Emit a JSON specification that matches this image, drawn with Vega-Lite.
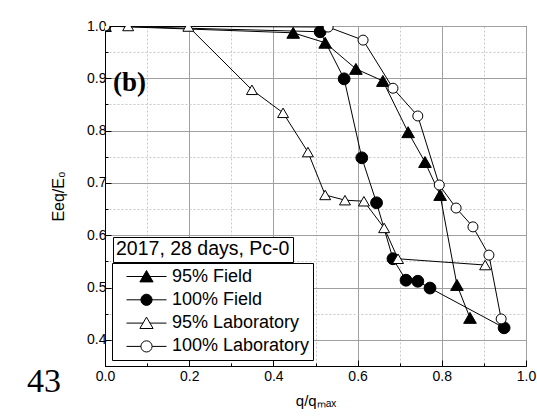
{
  "$schema": "https://vega.github.io/schema/vega-lite/v6.json",
  "width": 421,
  "height": 340,
  "autosize": {"type": "none"},
  "padding": {"left": 105, "top": 26, "right": 11, "bottom": 51},
  "background": "white",
  "config": {
    "view": {"stroke": "black", "strokeWidth": 1},
    "font": "Liberation Sans"
  },
  "data": {
    "values": [
      {"series": "95% Field", "x": 0.0, "y": 1.0, "note": "2017, 28 days, Pc-0"},
      {"series": "95% Field", "x": 0.447, "y": 0.987, "note": "2017, 28 days, Pc-0"},
      {"series": "95% Field", "x": 0.523, "y": 0.968, "note": "2017, 28 days, Pc-0"},
      {"series": "95% Field", "x": 0.596, "y": 0.918, "note": "2017, 28 days, Pc-0"},
      {"series": "95% Field", "x": 0.66, "y": 0.895, "note": "2017, 28 days, Pc-0"},
      {"series": "95% Field", "x": 0.72, "y": 0.797, "note": "2017, 28 days, Pc-0"},
      {"series": "95% Field", "x": 0.76, "y": 0.74, "note": "2017, 28 days, Pc-0"},
      {"series": "95% Field", "x": 0.796, "y": 0.677, "note": "2017, 28 days, Pc-0"},
      {"series": "95% Field", "x": 0.836, "y": 0.505, "note": "2017, 28 days, Pc-0"},
      {"series": "95% Field", "x": 0.867, "y": 0.442, "note": "2017, 28 days, Pc-0"},
      {"series": "100% Field", "x": 0.0, "y": 1.0, "note": "2017, 28 days, Pc-0"},
      {"series": "100% Field", "x": 0.511, "y": 0.989, "note": "2017, 28 days, Pc-0"},
      {"series": "100% Field", "x": 0.568, "y": 0.899, "note": "2017, 28 days, Pc-0"},
      {"series": "100% Field", "x": 0.61, "y": 0.748, "note": "2017, 28 days, Pc-0"},
      {"series": "100% Field", "x": 0.645, "y": 0.662, "note": "2017, 28 days, Pc-0"},
      {"series": "100% Field", "x": 0.684, "y": 0.555, "note": "2017, 28 days, Pc-0"},
      {"series": "100% Field", "x": 0.715, "y": 0.514, "note": "2017, 28 days, Pc-0"},
      {"series": "100% Field", "x": 0.743, "y": 0.512, "note": "2017, 28 days, Pc-0"},
      {"series": "100% Field", "x": 0.772, "y": 0.499, "note": "2017, 28 days, Pc-0"},
      {"series": "100% Field", "x": 0.948, "y": 0.423, "note": "2017, 28 days, Pc-0"},
      {"series": "95% Laboratory", "x": 0.0, "y": 1.0, "note": "2017, 28 days, Pc-0"},
      {"series": "95% Laboratory", "x": 0.055, "y": 1.0, "note": "2017, 28 days, Pc-0"},
      {"series": "95% Laboratory", "x": 0.198, "y": 0.999, "note": "2017, 28 days, Pc-0"},
      {"series": "95% Laboratory", "x": 0.349, "y": 0.878, "note": "2017, 28 days, Pc-0"},
      {"series": "95% Laboratory", "x": 0.423, "y": 0.834, "note": "2017, 28 days, Pc-0"},
      {"series": "95% Laboratory", "x": 0.482, "y": 0.759, "note": "2017, 28 days, Pc-0"},
      {"series": "95% Laboratory", "x": 0.523, "y": 0.677, "note": "2017, 28 days, Pc-0"},
      {"series": "95% Laboratory", "x": 0.57, "y": 0.667, "note": "2017, 28 days, Pc-0"},
      {"series": "95% Laboratory", "x": 0.615, "y": 0.665, "note": "2017, 28 days, Pc-0"},
      {"series": "95% Laboratory", "x": 0.663, "y": 0.614, "note": "2017, 28 days, Pc-0"},
      {"series": "95% Laboratory", "x": 0.696, "y": 0.555, "note": "2017, 28 days, Pc-0"},
      {"series": "95% Laboratory", "x": 0.903, "y": 0.543, "note": "2017, 28 days, Pc-0"},
      {"series": "100% Laboratory", "x": 0.0, "y": 1.0, "note": "2017, 28 days, Pc-0"},
      {"series": "100% Laboratory", "x": 0.53, "y": 0.998, "note": "2017, 28 days, Pc-0"},
      {"series": "100% Laboratory", "x": 0.613, "y": 0.973, "note": "2017, 28 days, Pc-0"},
      {"series": "100% Laboratory", "x": 0.684, "y": 0.881, "note": "2017, 28 days, Pc-0"},
      {"series": "100% Laboratory", "x": 0.743, "y": 0.828, "note": "2017, 28 days, Pc-0"},
      {"series": "100% Laboratory", "x": 0.794, "y": 0.696, "note": "2017, 28 days, Pc-0"},
      {"series": "100% Laboratory", "x": 0.834, "y": 0.652, "note": "2017, 28 days, Pc-0"},
      {"series": "100% Laboratory", "x": 0.874, "y": 0.616, "note": "2017, 28 days, Pc-0"},
      {"series": "100% Laboratory", "x": 0.912, "y": 0.562, "note": "2017, 28 days, Pc-0"},
      {"series": "100% Laboratory", "x": 0.941, "y": 0.44, "note": "2017, 28 days, Pc-0"}
    ]
  },
  "layer": [
    {
      "mark": {"type": "line", "color": "black", "strokeWidth": 1, "clip": true},
      "encoding": {
        "x": {
          "field": "x", "type": "quantitative",
          "scale": {"domain": [0, 1], "nice": false, "zero": false},
          "axis": {"orient": "bottom", "values": [0, 0.1, 0.2, 0.3, 0.4, 0.5, 0.6, 0.7, 0.8, 0.9, 1.0], "format": ".1f", "labelExpr": "round(datum.value*10)%2==0 ? datum.label : ''", "grid": true, "gridColor": {"condition": {"test": "round(datum.value*10)%2==0", "value": "#a0a0a0"}, "value": "#c8c8c8"}, "gridDash": {"condition": {"test": "round(datum.value*10)%2==0", "value": []}, "value": [2, 2]}, "tickSize": {"condition": {"test": "round(datum.value*10)%2==0", "value": -6}, "value": -3}, "tickColor": "black", "domainColor": "black", "labelFontSize": 14, "labelColor": "black", "labelPadding": 9, "labelFlush": false, "title": "q/qₘₐₓ", "titleFontSize": 15, "titleFontWeight": "normal", "titleColor": "black", "titlePadding": 10}
        },
        "y": {
          "field": "y", "type": "quantitative",
          "scale": {"domain": [0.35, 1], "nice": false, "zero": false},
          "axis": {"orient": "left", "values": [0.35, 0.4, 0.45, 0.5, 0.55, 0.6, 0.65, 0.7, 0.75, 0.8, 0.85, 0.9, 0.95, 1.0], "format": ".1f", "labelExpr": "round(datum.value*20)%2==0 ? datum.label : ''", "grid": true, "gridColor": {"condition": {"test": "round(datum.value*20)%2==0", "value": "#a0a0a0"}, "value": "#c8c8c8"}, "gridDash": {"condition": {"test": "round(datum.value*20)%2==0", "value": []}, "value": [2, 2]}, "tickSize": {"condition": {"test": "round(datum.value*20)%2==0", "value": -6}, "value": -3}, "tickColor": "black", "domainColor": "black", "labelFontSize": 14, "labelColor": "black", "labelPadding": 5, "labelFlush": false, "title": "Eeq/E₀", "titleFontSize": 16, "titleFontWeight": "normal", "titleColor": "black", "titlePadding": 20}
        },
        "detail": {"field": "series"},
        "opacity": {
          "field": "note", "type": "nominal",
          "scale": {"range": [1]},
          "legend": {"title": "2017, 28 days, Pc-0", "values": [], "orient": "none", "legendX": 8, "legendY": 211, "fillColor": "white", "strokeColor": "black", "padding": 3, "titleFontSize": 19.5, "titleFont": "Liberation Sans", "titleFontWeight": "normal", "titleColor": "black", "titlePadding": 0}
        }
      }
    },
    {
      "mark": {"type": "point", "filled": true, "opacity": 1, "stroke": "black", "strokeWidth": 1, "clip": true},
      "encoding": {
        "x": {
          "field": "x", "type": "quantitative",
          "axis": {"orient": "bottom", "values": [0, 0.1, 0.2, 0.3, 0.4, 0.5, 0.6, 0.7, 0.8, 0.9, 1.0], "format": ".1f", "labelExpr": "round(datum.value*10)%2==0 ? datum.label : ''", "grid": true, "gridColor": {"condition": {"test": "round(datum.value*10)%2==0", "value": "#a0a0a0"}, "value": "#c8c8c8"}, "gridDash": {"condition": {"test": "round(datum.value*10)%2==0", "value": []}, "value": [2, 2]}, "tickSize": {"condition": {"test": "round(datum.value*10)%2==0", "value": -6}, "value": -3}, "tickColor": "black", "domainColor": "black", "labelFontSize": 14, "labelColor": "black", "labelPadding": 9, "labelFlush": false, "title": "q/qₘₐₓ", "titleFontSize": 15, "titleFontWeight": "normal", "titleColor": "black", "titlePadding": 10}
        },
        "y": {
          "field": "y", "type": "quantitative",
          "axis": {"orient": "left", "values": [0.35, 0.4, 0.45, 0.5, 0.55, 0.6, 0.65, 0.7, 0.75, 0.8, 0.85, 0.9, 0.95, 1.0], "format": ".1f", "labelExpr": "round(datum.value*20)%2==0 ? datum.label : ''", "grid": true, "gridColor": {"condition": {"test": "round(datum.value*20)%2==0", "value": "#a0a0a0"}, "value": "#c8c8c8"}, "gridDash": {"condition": {"test": "round(datum.value*20)%2==0", "value": []}, "value": [2, 2]}, "tickSize": {"condition": {"test": "round(datum.value*20)%2==0", "value": -6}, "value": -3}, "tickColor": "black", "domainColor": "black", "labelFontSize": 14, "labelColor": "black", "labelPadding": 5, "labelFlush": false, "title": "Eeq/E₀", "titleFontSize": 16, "titleFontWeight": "normal", "titleColor": "black", "titlePadding": 20}
        },
        "shape": {
          "field": "series", "type": "nominal",
          "scale": {"domain": ["95% Field", "100% Field", "95% Laboratory", "100% Laboratory"], "range": ["triangle-up", "circle", "triangle-up", "circle"]},
          "legend": null
        },
        "fill": {
          "field": "series", "type": "nominal",
          "scale": {"domain": ["95% Field", "100% Field", "95% Laboratory", "100% Laboratory"], "range": ["black", "black", "white", "white"]},
          "legend": null
        },
        "size": {
          "field": "series", "type": "nominal",
          "scale": {"domain": ["95% Field", "100% Field", "95% Laboratory", "100% Laboratory"], "range": [160, 100, 160, 100]},
          "legend": null
        }
      }
    },
    {
      "transform": [{"filter": "false"}],
      "mark": {"type": "point", "filled": true, "opacity": 1, "stroke": "black", "strokeWidth": 1},
      "encoding": {
        "x": {
          "field": "x", "type": "quantitative",
          "axis": {"orient": "bottom", "values": [0, 0.1, 0.2, 0.3, 0.4, 0.5, 0.6, 0.7, 0.8, 0.9, 1.0], "format": ".1f", "labelExpr": "round(datum.value*10)%2==0 ? datum.label : ''", "grid": true, "gridColor": {"condition": {"test": "round(datum.value*10)%2==0", "value": "#a0a0a0"}, "value": "#c8c8c8"}, "gridDash": {"condition": {"test": "round(datum.value*10)%2==0", "value": []}, "value": [2, 2]}, "tickSize": {"condition": {"test": "round(datum.value*10)%2==0", "value": -6}, "value": -3}, "tickColor": "black", "domainColor": "black", "labelFontSize": 14, "labelColor": "black", "labelPadding": 9, "labelFlush": false, "title": "q/qₘₐₓ", "titleFontSize": 15, "titleFontWeight": "normal", "titleColor": "black", "titlePadding": 10}
        },
        "y": {
          "field": "y", "type": "quantitative",
          "axis": {"orient": "left", "values": [0.35, 0.4, 0.45, 0.5, 0.55, 0.6, 0.65, 0.7, 0.75, 0.8, 0.85, 0.9, 0.95, 1.0], "format": ".1f", "labelExpr": "round(datum.value*20)%2==0 ? datum.label : ''", "grid": true, "gridColor": {"condition": {"test": "round(datum.value*20)%2==0", "value": "#a0a0a0"}, "value": "#c8c8c8"}, "gridDash": {"condition": {"test": "round(datum.value*20)%2==0", "value": []}, "value": [2, 2]}, "tickSize": {"condition": {"test": "round(datum.value*20)%2==0", "value": -6}, "value": -3}, "tickColor": "black", "domainColor": "black", "labelFontSize": 14, "labelColor": "black", "labelPadding": 5, "labelFlush": false, "title": "Eeq/E₀", "titleFontSize": 16, "titleFontWeight": "normal", "titleColor": "black", "titlePadding": 20}
        },
        "shape": {
          "field": "series", "type": "nominal",
          "scale": {"domain": ["95% Field", "100% Field", "95% Laboratory", "100% Laboratory"], "range": ["M-1,0H1M0,-0.3L0.33,0.27L-0.33,0.27Z", "M-1,0H1M-0.28,0A0.28,0.28,0,1,1,0.28,0A0.28,0.28,0,1,1,-0.28,0Z", "M-1,0H-0.17M0.17,0H1M0,-0.3L0.33,0.27L-0.33,0.27Z", "M-1,0H-0.28M0.28,0H1M-0.28,0A0.28,0.28,0,1,1,0.28,0A0.28,0.28,0,1,1,-0.28,0Z"]},
          "legend": {"title": null, "orient": "none", "legendX": 7, "legendY": 237, "direction": "vertical", "fillColor": "white", "strokeColor": "black", "padding": 3, "symbolSize": 1600, "symbolOffset": 11, "symbolStrokeColor": "black", "symbolStrokeWidth": 1, "symbolOpacity": 1, "labelOffset": 5, "labelFontSize": 18, "labelFont": "Liberation Sans", "labelColor": "black", "clipHeight": 21, "rowPadding": 2.3, "encode": {"symbols": {"update": {"stroke": {"value": "black"}, "strokeWidth": {"value": 1}}}}}
        },
        "fill": {
          "field": "series", "type": "nominal",
          "scale": {"domain": ["95% Field", "100% Field", "95% Laboratory", "100% Laboratory"], "range": ["black", "black", "white", "white"]},
          "legend": {"title": null, "orient": "none", "legendX": 7, "legendY": 237, "direction": "vertical", "fillColor": "white", "strokeColor": "black", "padding": 3, "symbolSize": 1600, "symbolOffset": 11, "symbolStrokeColor": "black", "symbolStrokeWidth": 1, "symbolOpacity": 1, "labelOffset": 5, "labelFontSize": 18, "labelFont": "Liberation Sans", "labelColor": "black", "clipHeight": 21, "rowPadding": 2.3, "encode": {"symbols": {"update": {"stroke": {"value": "black"}, "strokeWidth": {"value": 1}}}}}
        }
      }
    },
    {
      "data": {"values": [{"label": "(b)"}]},
      "mark": {"type": "text", "font": "Liberation Serif", "fontWeight": "bold", "fontSize": 27, "align": "center", "baseline": "alphabetic", "color": "black"},
      "encoding": {
        "x": {
          "datum": 0.058, "type": "quantitative",
          "axis": {"orient": "bottom", "values": [0, 0.1, 0.2, 0.3, 0.4, 0.5, 0.6, 0.7, 0.8, 0.9, 1.0], "format": ".1f", "labelExpr": "round(datum.value*10)%2==0 ? datum.label : ''", "grid": true, "gridColor": {"condition": {"test": "round(datum.value*10)%2==0", "value": "#a0a0a0"}, "value": "#c8c8c8"}, "gridDash": {"condition": {"test": "round(datum.value*10)%2==0", "value": []}, "value": [2, 2]}, "tickSize": {"condition": {"test": "round(datum.value*10)%2==0", "value": -6}, "value": -3}, "tickColor": "black", "domainColor": "black", "labelFontSize": 14, "labelColor": "black", "labelPadding": 9, "labelFlush": false, "title": "q/qₘₐₓ", "titleFontSize": 15, "titleFontWeight": "normal", "titleColor": "black", "titlePadding": 10}
        },
        "y": {
          "datum": 0.876, "type": "quantitative",
          "axis": {"orient": "left", "values": [0.35, 0.4, 0.45, 0.5, 0.55, 0.6, 0.65, 0.7, 0.75, 0.8, 0.85, 0.9, 0.95, 1.0], "format": ".1f", "labelExpr": "round(datum.value*20)%2==0 ? datum.label : ''", "grid": true, "gridColor": {"condition": {"test": "round(datum.value*20)%2==0", "value": "#a0a0a0"}, "value": "#c8c8c8"}, "gridDash": {"condition": {"test": "round(datum.value*20)%2==0", "value": []}, "value": [2, 2]}, "tickSize": {"condition": {"test": "round(datum.value*20)%2==0", "value": -6}, "value": -3}, "tickColor": "black", "domainColor": "black", "labelFontSize": 14, "labelColor": "black", "labelPadding": 5, "labelFlush": false, "title": "Eeq/E₀", "titleFontSize": 16, "titleFontWeight": "normal", "titleColor": "black", "titlePadding": 20}
        },
        "text": {"field": "label"}
      }
    },
    {
      "data": {"values": [{"label": "43"}]},
      "mark": {"type": "text", "font": "Liberation Serif", "fontSize": 34, "align": "center", "baseline": "alphabetic", "color": "black"},
      "encoding": {
        "x": {
          "datum": -0.145, "type": "quantitative",
          "axis": {"orient": "bottom", "values": [0, 0.1, 0.2, 0.3, 0.4, 0.5, 0.6, 0.7, 0.8, 0.9, 1.0], "format": ".1f", "labelExpr": "round(datum.value*10)%2==0 ? datum.label : ''", "grid": true, "gridColor": {"condition": {"test": "round(datum.value*10)%2==0", "value": "#a0a0a0"}, "value": "#c8c8c8"}, "gridDash": {"condition": {"test": "round(datum.value*10)%2==0", "value": []}, "value": [2, 2]}, "tickSize": {"condition": {"test": "round(datum.value*10)%2==0", "value": -6}, "value": -3}, "tickColor": "black", "domainColor": "black", "labelFontSize": 14, "labelColor": "black", "labelPadding": 9, "labelFlush": false, "title": "q/qₘₐₓ", "titleFontSize": 15, "titleFontWeight": "normal", "titleColor": "black", "titlePadding": 10}
        },
        "y": {
          "datum": 0.3, "type": "quantitative",
          "axis": {"orient": "left", "values": [0.35, 0.4, 0.45, 0.5, 0.55, 0.6, 0.65, 0.7, 0.75, 0.8, 0.85, 0.9, 0.95, 1.0], "format": ".1f", "labelExpr": "round(datum.value*20)%2==0 ? datum.label : ''", "grid": true, "gridColor": {"condition": {"test": "round(datum.value*20)%2==0", "value": "#a0a0a0"}, "value": "#c8c8c8"}, "gridDash": {"condition": {"test": "round(datum.value*20)%2==0", "value": []}, "value": [2, 2]}, "tickSize": {"condition": {"test": "round(datum.value*20)%2==0", "value": -6}, "value": -3}, "tickColor": "black", "domainColor": "black", "labelFontSize": 14, "labelColor": "black", "labelPadding": 5, "labelFlush": false, "title": "Eeq/E₀", "titleFontSize": 16, "titleFontWeight": "normal", "titleColor": "black", "titlePadding": 20}
        },
        "text": {"field": "label"}
      }
    }
  ],
  "resolve": {"scale": {"shape": "independent", "fill": "independent"}}
}
